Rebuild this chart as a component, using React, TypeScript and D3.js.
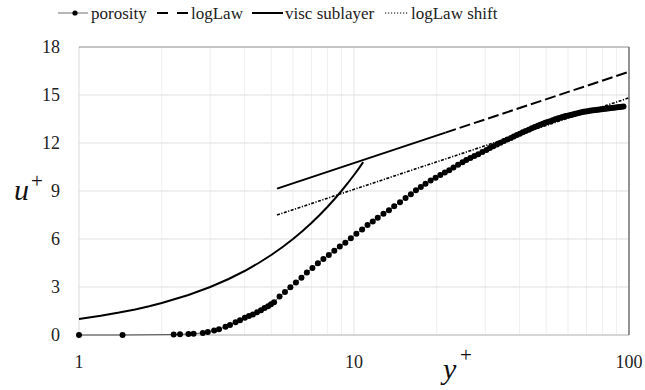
import React from "react";
import * as d3 from "d3";

const porosityY = [1, 1.44, 2.21, 2.33, 2.5, 2.61, 2.82, 2.94, 3.1, 3.23, 3.41, 3.54, 3.71, 3.85, 4.01, 4.15, 4.29, 4.44, 4.59, 4.73, 4.87, 4.99,
  5.12, 5.36, 5.61, 5.87, 6.15, 6.44, 6.74, 7.06, 7.39, 7.74, 8.1, 8.48, 8.88, 9.3, 9.74, 10.2, 10.7, 11.2, 11.7, 12.2, 12.8, 13.4, 14.0, 14.7, 15.4, 16.1,
  16.8, 17.5, 18.2, 19.0, 19.8, 20.6, 21.4, 22.2, 23.0, 23.9, 24.8, 25.6, 26.5, 27.4, 28.3, 29.3, 30.3, 31.2, 32.1, 33.1, 34.1, 35.1, 36.1, 37.2,
  38.1, 39.1, 40.1, 41.1, 42.1, 43.2, 44.3, 45.4, 46.6, 47.6, 48.6, 49.6, 50.6, 51.7, 52.8, 53.9, 55.0, 55.9, 56.9, 57.8, 58.8, 59.8, 60.8, 61.8,
  62.9, 63.9, 65.0, 66.1, 67.2, 68.4, 69.5, 70.7, 71.9, 73.1, 74.3, 75.6, 76.9, 78.2, 79.5, 80.8, 82.2, 83.6, 85.0, 86.4, 87.9, 89.4, 90.9, 92.4, 94.0, 95.5];
const porosityU = [0, 0, 0.03, 0.04, 0.06, 0.08, 0.13, 0.18, 0.28, 0.36, 0.52, 0.62, 0.8, 0.92, 1.08, 1.18, 1.28, 1.42, 1.55, 1.68, 1.8, 1.92,
  2.05, 2.4, 2.68, 2.98, 3.28, 3.58, 3.9, 4.18, 4.48, 4.75, 5.0, 5.27, 5.53, 5.77, 6.05, 6.33, 6.6, 6.88, 7.1, 7.33, 7.58, 7.8, 8.05, 8.3, 8.57, 8.8,
  9.05, 9.25, 9.45, 9.65, 9.83, 10.0, 10.15, 10.3, 10.47, 10.64, 10.8, 10.93, 11.06, 11.18, 11.3, 11.43, 11.57, 11.68, 11.79, 11.9, 12.02, 12.12, 12.22, 12.32,
  12.4, 12.5, 12.58, 12.67, 12.75, 12.83, 12.92, 13.0, 13.08, 13.14, 13.2, 13.26, 13.31, 13.36, 13.42, 13.48, 13.53, 13.57, 13.61, 13.64, 13.68, 13.71, 13.74, 13.77,
  13.8, 13.83, 13.86, 13.89, 13.92, 13.95, 13.97, 13.99, 14.01, 14.03, 14.05, 14.07, 14.08, 14.1, 14.11, 14.13, 14.14, 14.16, 14.17, 14.19, 14.2, 14.22, 14.23, 14.25, 14.27, 14.28];

const logLawY = [5.25, 21.5, 100];
const logLawU = [9.15, 12.65, 16.45];
const logLawSolidUntil = 21.5;

const viscY = [1, 1.2, 1.4, 1.6, 1.8, 2, 2.5, 3, 3.5, 4, 4.5, 5, 5.5, 6, 6.5, 7, 7.5, 8, 8.5, 9, 9.5, 10, 10.4, 10.8];
const viscU = [1, 1.2, 1.4, 1.6, 1.8, 2, 2.5, 3, 3.5, 4, 4.5, 5, 5.5, 6, 6.5, 7, 7.5, 8, 8.5, 9, 9.5, 10, 10.4, 10.8];

const shiftY = [5.25, 100];
const shiftU = [7.5, 14.82];

const yTicks = [0, 3, 6, 9, 12, 15, 18];
const xTicks = [1, 10, 100];
const xMinor = [2, 3, 4, 5, 6, 7, 8, 9, 20, 30, 40, 50, 60, 70, 80, 90];

const legendLabels = ["porosity", "logLaw", "visc sublayer", "logLaw shift"];

const W = 645, H = 390;
const L = 79, R = 629, T = 47, B = 335;
const css = "svg text, svg tspan { font-family: 'Liberation Serif', serif !important; }";

export default function App() {
  const x = d3.scaleLog().domain([1, 100]).range([L, R]);
  const y = d3.scaleLinear().domain([0, 18]).range([B, T]);
  const line = d3.line<[number, number]>().x(d => x(d[0])).y(d => y(d[1]));

  const por: [number, number][] = porosityY.map((v, i) => [v, porosityU[i]]);
  const ll: [number, number][] = logLawY.map((v, i) => [v, logLawU[i]]);
  const llSolid = ll.filter(d => d[0] <= logLawSolidUntil);
  const llDash = ll.filter(d => d[0] >= logLawSolidUntil);
  const visc: [number, number][] = viscY.map((v, i) => [v, viscU[i]]);
  const sh: [number, number][] = shiftY.map((v, i) => [v, shiftU[i]]);

  const legendX = [58, 157, 252, 385];
  const legendTextX = [91, 191, 285, 411];
  const ly = 13;
  const ff = { fontFamily: "Liberation Serif" };

  return (
    <svg width={W} height={H} style={{ position: "absolute", left: 0, top: 0, background: "#fff" }}>
      <style>{css}</style>
      {xMinor.map(v => (
        <line key={"xm" + v} x1={x(v)} x2={x(v)} y1={T} y2={B} stroke="#efefef" strokeWidth={1} />
      ))}
      <line x1={x(10)} x2={x(10)} y1={T} y2={B} stroke="#e6e6e6" strokeWidth={1} />
      {yTicks.filter(v => v > 0 && v < 18).map(v => (
        <line key={"yg" + v} x1={L} x2={R} y1={y(v)} y2={y(v)} stroke="#e0e0e0" strokeWidth={1.2} />
      ))}
      <line x1={L} x2={L} y1={T} y2={B} stroke="#d9d9d9" strokeWidth={1} />
      <line x1={L} x2={R} y1={B} y2={B} stroke="#c8c8c8" strokeWidth={1.3} />
      <line x1={L} x2={R} y1={T} y2={T} stroke="#8c8c8c" strokeWidth={1} />
      <line x1={R} x2={R} y1={T} y2={B} stroke="#595959" strokeWidth={1.3} />

      {yTicks.map(v => (
        <text key={"yt" + v} x={60} y={y(v) + 6} textAnchor="end" fontSize={18} style={ff} fill="#222">{v}</text>
      ))}
      {xTicks.map(v => (
        <text key={"xt" + v} x={x(v)} y={368} textAnchor="middle" fontSize={18} style={ff} fill="#222">{v}</text>
      ))}
      {legendLabels.map((t, i) => (
        <text key={t} x={legendTextX[i]} y={19} fontSize={17} style={ff} fill="#222">{t}</text>
      ))}
      <text x={14} y={200} fontSize={30} fontStyle="italic" style={ff} fill="#111">u</text>
      <text x={31} y={188} fontSize={21} style={ff} fill="#111">+</text>
      <text x={443} y={379} fontSize={30} fontStyle="italic" style={ff} fill="#111">y</text>
      <text x={460} y={362} fontSize={21} style={ff} fill="#111">+</text>

      <path d={line(visc) || ""} fill="none" stroke="#000" strokeWidth={2} />
      <path d={line(llSolid) || ""} fill="none" stroke="#000" strokeWidth={2} />
      <path d={line(llDash) || ""} fill="none" stroke="#000" strokeWidth={2} strokeDasharray="11 4" />
      <path d={line(sh) || ""} fill="none" stroke="#000" strokeWidth={1.6} strokeDasharray="3 1.5 1.2 1.5" />
      <path d={line(por) || ""} fill="none" stroke="#555" strokeWidth={1} />
      {por.map((d, i) => (
        <circle key={"p" + i} cx={x(d[0])} cy={y(d[1])} r={3} fill="#000" />
      ))}

      <line x1={legendX[0]} x2={legendX[0] + 30} y1={ly} y2={ly} stroke="#888" strokeWidth={1.2} />
      <circle cx={legendX[0] + 17} cy={ly} r={2.6} fill="#000" />
      <line x1={legendX[1]} x2={legendX[1] + 31} y1={ly} y2={ly} stroke="#000" strokeWidth={2} strokeDasharray="11 9" />
      <line x1={legendX[2]} x2={legendX[2] + 31} y1={ly} y2={ly} stroke="#000" strokeWidth={2} />
      <line x1={legendX[3]} x2={legendX[3] + 23} y1={ly} y2={ly} stroke="#000" strokeWidth={1.2} strokeDasharray="1.2 1.8" />
    </svg>
  );
}
